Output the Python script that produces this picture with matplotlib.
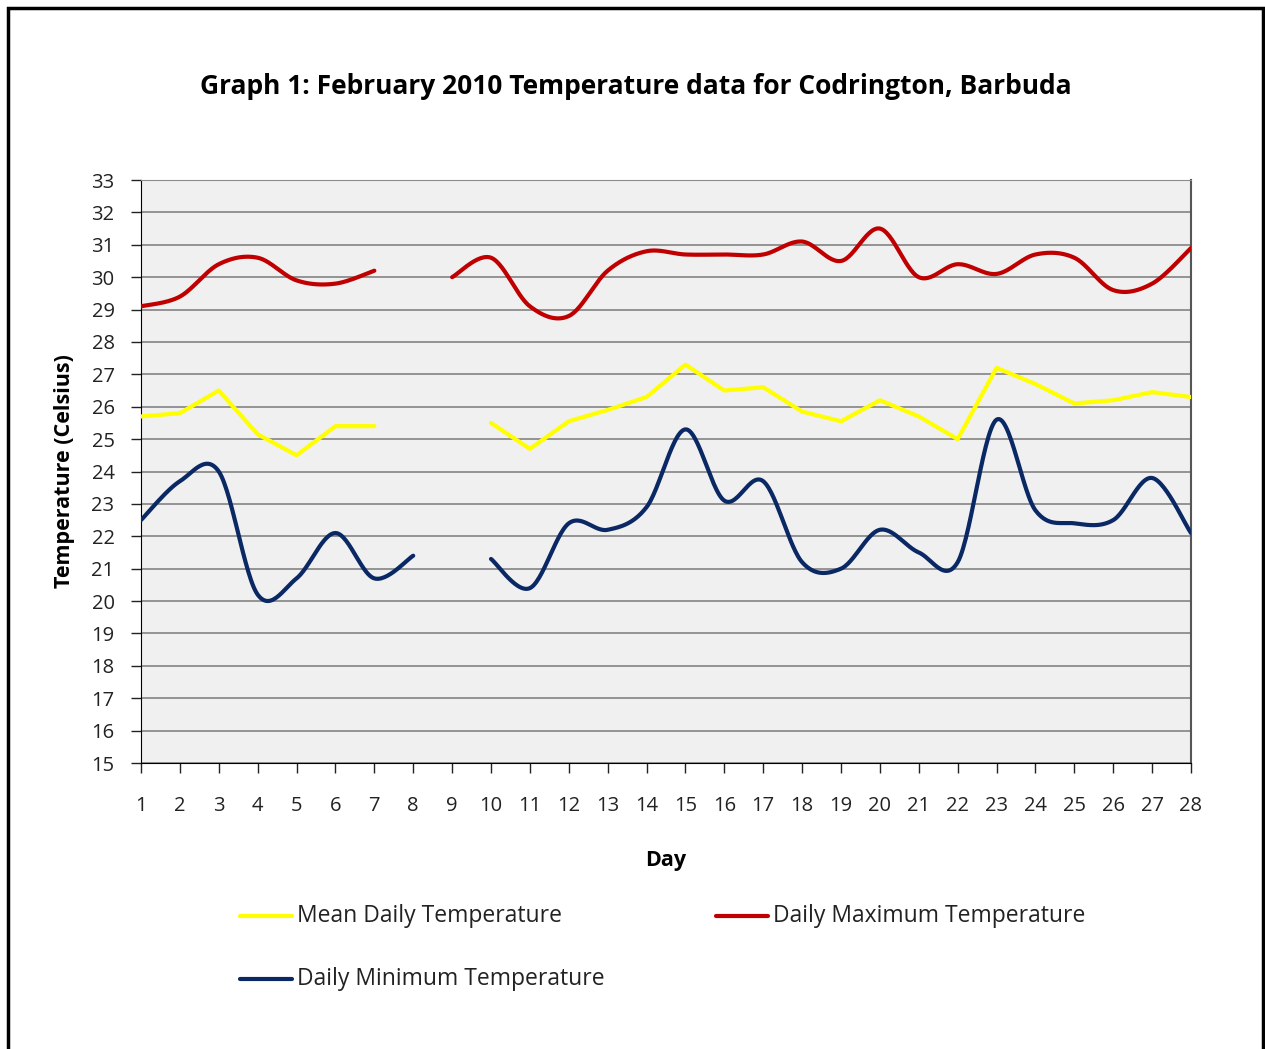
import numpy as np
import matplotlib.pyplot as plt
from matplotlib.patches import Rectangle
from matplotlib.lines import Line2D

plt.rcParams['font.family'] = ['Open Sans', 'DejaVu Sans']

## data (nan = no reading that day)
days = np.arange(1, 29)
nan = np.nan
mean_temp = [25.7, 25.8, 26.5, 25.15, 24.5, 25.4, 25.4, nan, nan, 25.5,
             24.7, 25.55, 25.9, 26.3, 27.3, 26.5, 26.6, 25.85, 25.55, 26.2,
             25.7, 25.0, 27.2, 26.7, 26.1, 26.2, 26.45, 26.3]
max_temp = [29.1, 29.4, 30.4, 30.6, 29.9, 29.8, 30.2, nan, 30.0, 30.6,
            29.1, 28.8, 30.2, 30.8, 30.7, 30.7, 30.7, 31.1, 30.5, 31.5,
            30.0, 30.4, 30.1, 30.7, 30.6, 29.6, 29.8, 30.9]
min_temp = [22.5, 23.7, 24.0, 20.2, 20.7, 22.1, 20.7, 21.4, nan, 21.3,
            20.4, 22.4, 22.2, 22.9, 25.3, 23.1, 23.7, 21.2, 21.0, 22.2,
            21.5, 21.2, 25.6, 22.8, 22.4, 22.5, 23.8, 22.1]

labels = ["Mean Daily Temperature", "Daily Maximum Temperature",
          "Daily Minimum Temperature"]
colors = ["#FFFF00", "#C00000", "#0A2864"]


def smooth(x, y, n=30):
    ## excel style smoothed line (bezier thru points, tension 1/6)
    x = np.asarray(x, float)
    y = np.asarray(y, float)
    px, py = [], []
    for i in range(len(x) - 1):
        i0, i3 = max(i - 1, 0), min(i + 2, len(x) - 1)
        c1x = x[i] + (x[i + 1] - x[i0]) / 6
        c1y = y[i] + (y[i + 1] - y[i0]) / 6
        c2x = x[i + 1] - (x[i3] - x[i]) / 6
        c2y = y[i + 1] - (y[i3] - y[i]) / 6
        t = np.linspace(0, 1, n)
        b0, b1, b2, b3 = (1 - t) ** 3, 3 * t * (1 - t) ** 2, 3 * t ** 2 * (1 - t), t ** 3
        px.extend(b0 * x[i] + b1 * c1x + b2 * c2x + b3 * x[i + 1])
        py.extend(b0 * y[i] + b1 * c1y + b2 * c2y + b3 * y[i + 1])
    return px, py


def segments(x, y):
    ## split series at missing values
    y = np.asarray(y, float)
    ok = ~np.isnan(y)
    segs, cur = [], []
    for xi, yi, k in zip(x, y, ok):
        if k:
            cur.append((xi, yi))
        elif cur:
            segs.append(cur)
            cur = []
    if cur:
        segs.append(cur)
    return segs


fig = plt.figure(figsize=(12.65, 10.49), dpi=100)
ax = fig.add_axes([141 / 1265, 1 - 763 / 1049, 1050 / 1265, 583 / 1049])
ax.set_facecolor("#F0F0F0")

for series, col, smooth_it in [(mean_temp, colors[0], False),
                               (max_temp, colors[1], True),
                               (min_temp, colors[2], True)]:
    for seg in segments(days, series):
        sx, sy = zip(*seg)
        if smooth_it and len(sx) > 1:
            sx, sy = smooth(sx, sy)
        ax.plot(sx, sy, color=col, lw=3.0, solid_capstyle='round', zorder=3)

ax.set_xlim(1, 28)
ax.set_ylim(15, 33)
ax.set_xticks(days)
ax.set_yticks(np.arange(15, 34))
ax.yaxis.grid(True, color="#8C8C8C", lw=1.3)
ax.set_axisbelow(True)
ax.tick_params(axis='y', direction='out', length=7, width=1, pad=12,
               labelsize=14.5, colors='#222222')
ax.tick_params(axis='x', direction='out', length=7, width=1, pad=17,
               labelsize=14.5, colors='#222222')
for s in ['left', 'bottom']:
    ax.spines[s].set_color('black')
ax.spines['top'].set_color('#8C8C8C')
ax.spines['right'].set_color('#555555')
ax.spines['right'].set_linewidth(1.5)

ax.set_ylabel("Temperature (Celsius)", fontsize=15.5, fontweight='bold', labelpad=12)
ax.set_xlabel("Day", fontsize=15.5, fontweight='bold', labelpad=24)

fig.text(636 / 1265, 1 - 87 / 1049,
         "Graph 1: February 2010 Temperature data for Codrington, Barbuda",
         ha='center', va='center', fontsize=19, fontweight='bold')

## legend drawn by hand to keep the 2-row layout
leg = [(240, 916, 0), (716, 916, 1), (240, 979, 2)]
for lx, ly, k in leg:
    yf = 1 - ly / 1049
    fig.add_artist(Line2D([lx / 1265, (lx + 52) / 1265], [yf, yf], color=colors[k],
                          lw=3.0, solid_capstyle='round', transform=fig.transFigure))
    fig.text((lx + 57) / 1265, yf, labels[k], ha='left', va='center',
             fontsize=16.5, color='#222222')

## outer frame
fig.add_artist(Rectangle((8 / 1265, -0.01), 1255 / 1265, 1 + 0.01 - 8 / 1049,
                         fill=False, lw=2.5, ec='black', transform=fig.transFigure))

fig.savefig("out.png", dpi=100)
